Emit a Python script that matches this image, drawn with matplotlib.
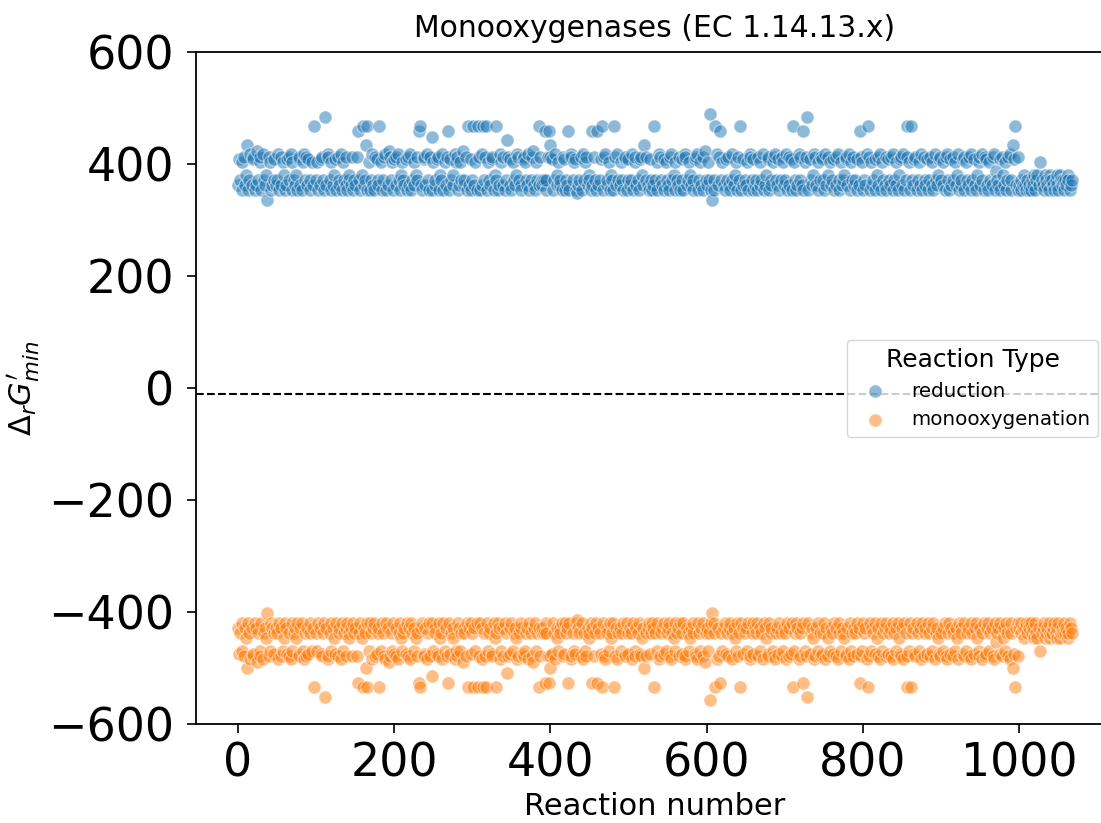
import matplotlib
matplotlib.use("Agg")
import matplotlib.pyplot as plt

# ---- data ----
# One character per reaction number 0..1068:
#   '.' = no point plotted for that reaction number,
#   a letter = the energy level of that reaction (see the two level tables).
level_code_by_reaction = (
    # 0-99
    "b.fc.ae.db" "s.pa.cg.bd" "f.ab.tc.ed" "a.gc.bs.l." "de.ab.fc.b"
    "c.ga.db.es" "a.bf.cd.ga" "e.cb.sa.fd" "b.ae.gc.db" "f.ca.eb.j."
    # 100-199
    "c.ea.bf.dc" "a.kb.gd.ca" "e.bs.fa.dc" "b.ga.ec.bd" "a.cs.bd.ac"
    "b.d.ic.a.s" "jb.cpaj.ea" "c.gb.ad.fc" "bj.ea.cd.g" "a.bt.dc.ea"
    # 200-299
    "f.bd.gc.as" "e.cb.fa.db" "g.ac.eb.sd" "c.ijb.a.fd" "b.gc.ad.ha"
    "e.bc.fd.as" "c.ga.eb.di" "a.fc.bs.ge" "d.ab.ec.tb" "c.da.jb.fa"
    # 300-399
    "cj.be.aj.d" "a.gbjc.dja" "e.cb.fd.as" "cj.ab.ge.d" "b.ac.qd.fb"
    "a.ec.bs.gd" "c.ba.fd.ec" "b.ga.cd.tb" "a.ec.bjd.c" "b.ciac.dip"
    # 400-499
    "d.fa.cg.bs" "e.bc.ad.fa" "c.bia.gd.c" "e.fam.bc.d" "a.gc.ed.bs"
    "c.aib.dc.a" "ib.c.fj.ad" "g.bc.ea.sc" "aj.db.gc.b" "e.ca.fd.ac"
    # 500-599
    "f.bc.ga.ed" "b.ca.fd.sb" "p.dc.ba.fc" "a.bjc.ea.g" "d.cb.fa.ec"
    "b.ad.gc.sa" "e.cb.da.fc" "a.gd.bc.es" "b.ca.fd.ga" "c.eb.ad.tc"
    # 600-699
    "b.ec.nal.c" "aj.gb.di.c" "e.ba.fc.db" "a.gc.bs.ea" "d.cja.fb.c"
    "b.ea.gd.ca" "f.bc.ad.eb" "c.ga.bs.fd" "a.cb.ed.gc" "b.fa.cd.eb"
    # 700-799
    "c.ga.bd.fa" "j.ec.ab.gd" "c.bia.ed.k" "a.fc.bs.gd" "b.ea.cd.fc"
    "a.gb.ds.eb" "c.fa.bd.gc" "a.eb.cs.fd" "b.ga.ec.db" "c.fa.bid.e"
    # 800-899
    "a.cb.gj.da" "e.bc.fa.sd" "b.ga.ec.bd" "a.fc.bd.ga" "c.eb.as.fd"
    "b.ga.cdj.e" "a.jcb.fd.a" "c.eb.ga.dc" "b.fa.cd.eb" "a.gc.bs.fd"
    # 900-999
    "c.eb.ad.gc" "a.fb.cd.eb" "s.ga.bc.fd" "a.ec.bd.ga" "c.fb.as.ed"
    "b.gc.ad.fb" "a.ec.bd.ga" "r.cb.fa.ds" "b.ea.cd.ga" "c.pf.jb.ad"
    # 1000-1068
    "b.ca.bsb.a" "c.ab.ac.bs" "a.cs.b.e.c" "b.as.cb.as" "c.cb.a.csb"
    "a.sc.bc.ac" "b.sc.ab.c"
)

# Delta_r G'_min of each level, per reaction type
reduction_level = {
    "a": 353, "b": 362, "c": 371, "s": 381, "r": 388,
    "e": 403, "f": 409, "d": 413, "g": 418, "t": 424,
    "p": 434, "q": 443, "h": 449, "i": 459, "j": 467, "k": 484, "n": 489,
    "l": 335, "m": 349,
}
monooxygenation_level = {
    "a": -419, "b": -428, "c": -437, "s": -447, "r": -454,
    "e": -469, "f": -475, "d": -479, "g": -484, "t": -490,
    "p": -500, "q": -509, "h": -515, "i": -526, "j": -534, "k": -552, "n": -557,
    "l": -401, "m": -415,
}

reaction_types = ["reduction", "monooxygenation"]
zero_line = -11
y_limits = (-600, 600)
y_ticks = [-600, -400, -200, 0, 200, 400, 600]
x_ticks = [0, 200, 400, 600, 800, 1000]

assert len(level_code_by_reaction) == 1069, len(level_code_by_reaction)
reaction_number = [i for i, c in enumerate(level_code_by_reaction) if c != "."]
codes = [c for c in level_code_by_reaction if c != "."]
dg_reduction = [reduction_level[c] for c in codes]
dg_monooxygenation = [monooxygenation_level[c] for c in codes]

# ---- figure ----
W, H = 1101, 823
fig = plt.figure(figsize=(W / 100, H / 100), dpi=100)
ax = fig.add_axes([196 / W, (H - 724) / H, (1114 - 196) / W, 672 / H])

colors = ["#1f77b4", "#ff7f0e"]
for vals, lab, col in zip([dg_reduction, dg_monooxygenation], reaction_types, colors):
    ax.scatter(reaction_number, vals, s=90, color=col, alpha=0.5,
               edgecolor="white", linewidth=0.8, label=lab, zorder=2)

ax.axhline(zero_line, color="black", linestyle="--", linewidth=1.5, zorder=1)

ax.set_ylim(*y_limits)
ax.set_yticks(y_ticks)
ax.set_xticks(x_ticks)
ax.tick_params(axis="both", labelsize=33, length=6.5, width=1.2)
ax.tick_params(axis="y", pad=9)
ax.tick_params(axis="x", pad=6)
for sp in ax.spines.values():
    sp.set_linewidth(1.3)

ax.set_title("Monooxygenases (EC 1.14.13.x)", fontsize=21.5, pad=11)
ax.set_xlabel("Reaction number", fontsize=22, labelpad=4)
ax.set_ylabel(r"$\Delta_r G^{\prime}_{min}$", fontsize=22, labelpad=4)

leg = ax.legend(title="Reaction Type", loc="center right",
                bbox_to_anchor=(1098 / W, 1 - 388.5 / H),
                bbox_transform=fig.transFigure, borderaxespad=0,
                fontsize=14.3, title_fontsize=18, markerscale=1.0)

fig.savefig("out.png", dpi=100)
